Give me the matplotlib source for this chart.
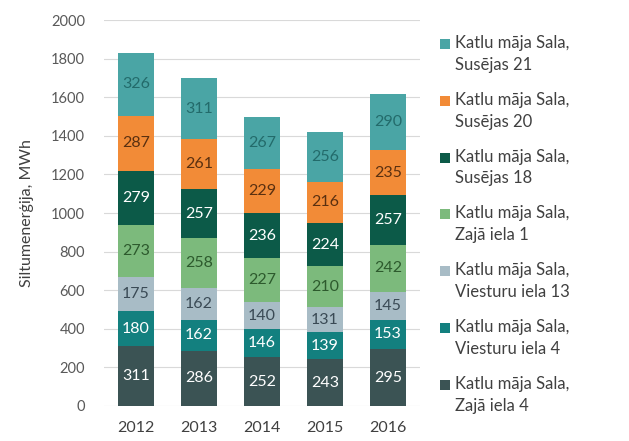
import matplotlib
matplotlib.use("Agg")
import matplotlib.pyplot as plt
from matplotlib.patches import Rectangle

plt.rcParams['font.family'] = ['Lato', 'DejaVu Sans']

years = ["2012", "2013", "2014", "2015", "2016"]
series_names = [
    "Katlu māja Sala,\nZajā iela 4",
    "Katlu māja Sala,\nViesturu iela 4",
    "Katlu māja Sala,\nViesturu iela 13",
    "Katlu māja Sala,\nZajā iela 1",
    "Katlu māja Sala,\nSusējas 18",
    "Katlu māja Sala,\nSusējas 20",
    "Katlu māja Sala,\nSusējas 21",
]
zaja4 = [311, 286, 252, 243, 295]
viesturu4 = [180, 162, 146, 139, 153]
viesturu13 = [175, 162, 140, 131, 145]
zaja1 = [273, 258, 227, 210, 242]
susejas18 = [279, 257, 236, 224, 257]
susejas20 = [287, 261, 229, 216, 235]
susejas21 = [326, 311, 267, 256, 290]
series = [zaja4, viesturu4, viesturu13, zaja1, susejas18, susejas20, susejas21]

colors = ["#3b5354", "#13807f", "#a8bcc6", "#7cba7c", "#0c5a48", "#f28b37", "#4aa5a5"]
label_colors = ["white", "white", "#3a4a55", "#2d5a2d", "white", "#5a3010", "#236b6b"]

W, H = 629, 441
fig = plt.figure(figsize=(W / 100, H / 100), dpi=100)
ax = fig.add_axes([0.166, 0.0794, 0.501, 0.8752])

x = list(range(len(years)))
bottoms = [0] * len(years)
for vals, c, lc in zip(series, colors, label_colors):
    ax.bar(x, vals, width=0.57, bottom=bottoms, color=c, zorder=2)
    for xi, v, b in zip(x, vals, bottoms):
        ax.text(xi, b + v / 2, str(v), ha='center', va='center', color=lc,
                fontsize=11.5, zorder=3)
    bottoms = [b + v for b, v in zip(bottoms, vals)]

ax.set_xlim(-0.5, 4.5)
ax.set_ylim(0, 2000)
ax.set_yticks(range(0, 2001, 200))
ax.set_xticks(x)
ax.set_xticklabels(years)
ax.tick_params(axis='y', length=0, labelsize=10.5, colors='#595959', pad=14)
ax.tick_params(axis='x', length=0, labelsize=11.5, colors='#404040', pad=11)
ax.grid(axis='y', color='#d9d9d9', linewidth=0.8, zorder=0)
for s in ax.spines.values():
    s.set_visible(False)
ax.set_ylabel("Siltumenerģija, MWh", fontsize=11.5, color='#404040', labelpad=12)

# legend drawn manually (squares aligned with first text line)
for i, idx in enumerate(range(len(series) - 1, -1, -1)):
    ytop = 44 + i * 56.8  # pixel centre of first line from top
    fig.patches.append(Rectangle(((440) / W, 1 - (ytop + 5) / H), 10 / W, 10 / H,
                                 transform=fig.transFigure, facecolor=colors[idx],
                                 edgecolor='none'))
    fig.text(455 / W, 1 - (ytop - 9) / H, series_names[idx], ha='left', va='top',
             fontsize=12, color='#404040', linespacing=1.45)

fig.savefig("out.png", dpi=100)
